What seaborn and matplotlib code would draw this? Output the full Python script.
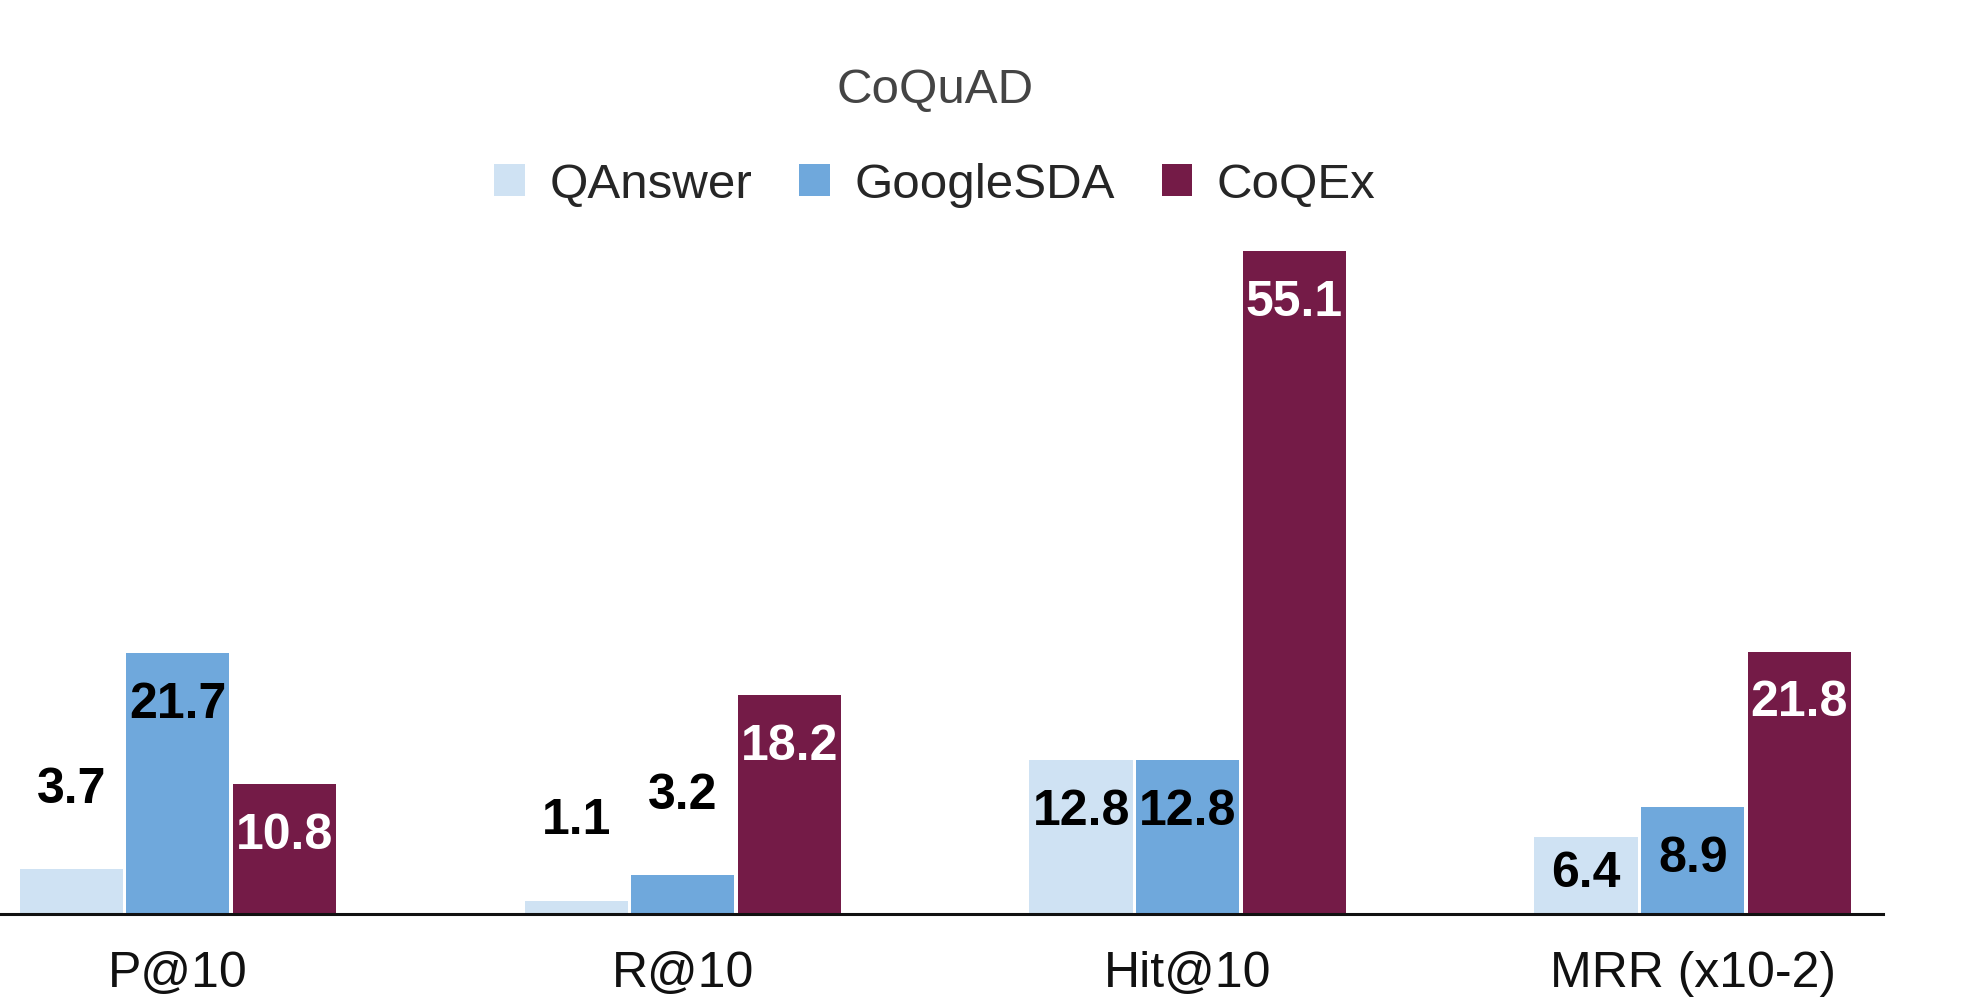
import pandas as pd
import matplotlib.pyplot as plt
import seaborn as sns
from matplotlib.patches import Patch

# Dados
metricas = ['P@10', 'R@10', 'Hit@10', 'MRR (x10-2)']
sistemas = ['QAnswer', 'GoogleSDA', 'CoQEx']
qanswer = [3.7, 1.1, 12.8, 6.4]
googlesda = [21.7, 3.2, 12.8, 8.9]
coqex = [10.8, 18.2, 55.1, 21.8]
cores = ['#cfe2f3', '#6fa8dc', '#741b47']
cor_rotulo = ['black', 'black', 'white']

df = pd.DataFrame({
    'metrica': metricas * 3,
    'sistema': [s for s in sistemas for _ in metricas],
    'valor': qanswer + googlesda + coqex,
})

sns.set_theme(style='white')
plt.rcParams['font.family'] = ['Liberation Sans', 'DejaVu Sans']

fig = plt.figure(figsize=(19.64, 10.06), dpi=100)
ax = fig.add_axes([0.0, 0.0915, 0.9588, 0.67])

sns.barplot(data=df, x='metrica', y='valor', hue='sistema', hue_order=sistemas,
            order=metricas, palette=cores, width=0.633, gap=0.03,
            saturation=1, edgecolor='none', legend=False, ax=ax)

ax.set_xlim(-0.352, 3.377)
ax.set_ylim(0, 56)

# rótulos de valor
for container, cor in zip(ax.containers, cor_rotulo):
    for barra in container:
        v = barra.get_height()
        xc = barra.get_x() + barra.get_width() / 2
        if v < 5:
            y, c = v + 6.6, 'black'
        else:
            y, c = max(v - 4.3, 3.3), cor
        ax.text(xc, y, f'{v:.1f}', ha='center', va='center', color=c,
                fontsize=36, fontweight='bold')

ax.set_xlabel('')
ax.set_ylabel('')
ax.set_yticks([])
ax.tick_params(axis='x', length=0, pad=27, labelsize=36, labelcolor='#111111')
sns.despine(ax=ax, left=True, top=True, right=True)
ax.spines['bottom'].set_color('#111111')
ax.spines['bottom'].set_linewidth(2.2)

fig.text(0.476, 0.9105, 'CoQuAD', ha='center', va='center', fontsize=35.5, color='#444444')

handles = [Patch(facecolor=c, edgecolor='none', label=s) for s, c in zip(sistemas, cores)]
fig.legend(handles=handles, loc='center', bbox_to_anchor=(0.476, 0.816), ncol=3,
           frameon=False, fontsize=35.5, handlelength=0.62, handleheight=0.62,
           handletextpad=0.5, columnspacing=0.95)

plt.savefig('out.png', dpi=100)
